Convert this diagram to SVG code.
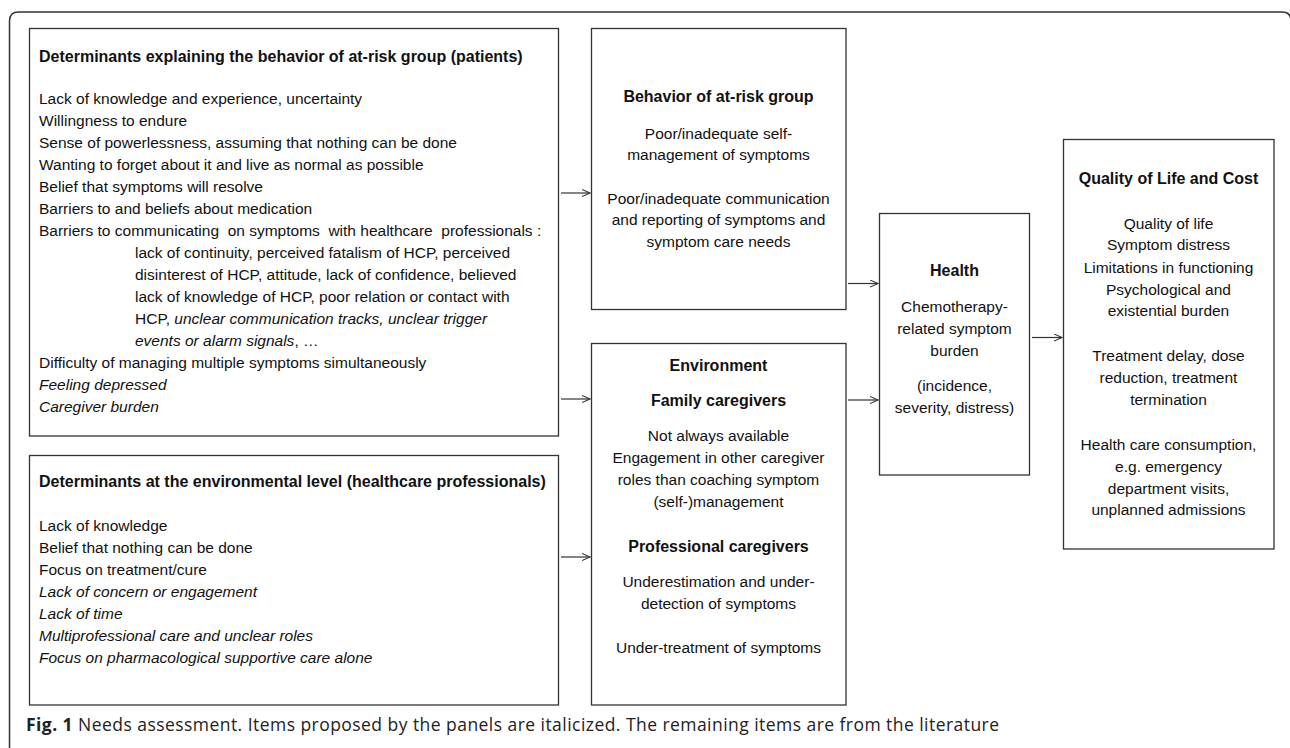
<svg xmlns="http://www.w3.org/2000/svg" width="1290" height="748" viewBox="0 0 1290 748">
<style>
.box{fill:#fff;stroke:#333;stroke-width:1.3}
.frame{fill:none;stroke:#333;stroke-width:1.5}
text{font-family:"Liberation Sans",Arial,sans-serif;font-size:15.5px;fill:#111}
.b{font-weight:bold;font-size:16px}
.c{text-anchor:middle}
.i{font-style:italic}
.cap{font-family:"Open Sans","Noto Sans",sans-serif;font-size:17.5px;fill:#222}
.conn{stroke:#333;stroke-width:1.2;fill:none;marker-end:url(#arr)}
</style>
<defs>
<marker id="arr" markerUnits="userSpaceOnUse" markerWidth="10" markerHeight="10" refX="8" refY="4" orient="auto">
<path d="M0,0.5 L8,4 L0,7.5" fill="none" stroke="#333" stroke-width="1.1"/>
</marker>
</defs>
<rect width="1290" height="748" fill="#fff"/>
<path class="frame" d="M9.5,748 V21 Q9.5,12 18.5,12 H1282 Q1291,12 1291,21"/>

<g id="det-patients">
<rect class="box" x="29.5" y="28.5" width="529" height="407.5"/>
<text class="b" x="39" y="62">Determinants explaining the behavior of at-risk group (patients)</text>
<text x="39" y="104">Lack of knowledge and experience, uncertainty</text>
<text x="39" y="126">Willingness to endure</text>
<text x="39" y="148">Sense of powerlessness, assuming that nothing can be done</text>
<text x="39" y="170">Wanting to forget about it and live as normal as possible</text>
<text x="39" y="192">Belief that symptoms will resolve</text>
<text x="39" y="214">Barriers to and beliefs about medication</text>
<text x="39" y="236" xml:space="preserve">Barriers to communicating  on symptoms  with healthcare  professionals :</text>
<text x="135" y="258">lack of continuity, perceived fatalism of HCP, perceived</text>
<text x="135" y="280">disinterest of HCP, attitude, lack of confidence, believed</text>
<text x="135" y="302">lack of knowledge of HCP, poor relation or contact with</text>
<text x="135" y="324">HCP, <tspan class="i">unclear communication tracks, unclear trigger</tspan></text>
<text x="135" y="346"><tspan class="i">events or alarm signals</tspan>, …</text>
<text x="39" y="368">Difficulty of managing multiple symptoms simultaneously</text>
<text class="i" x="39" y="390">Feeling depressed</text>
<text class="i" x="39" y="412">Caregiver burden</text>
</g>

<g id="det-environment">
<rect class="box" x="29.5" y="455.5" width="529" height="249.5"/>
<text class="b" x="39" y="487">Determinants at the environmental level (healthcare professionals)</text>
<text x="39" y="531">Lack of knowledge</text>
<text x="39" y="553">Belief that nothing can be done</text>
<text x="39" y="575">Focus on treatment/cure</text>
<text class="i" x="39" y="597">Lack of concern or engagement</text>
<text class="i" x="39" y="619">Lack of time</text>
<text class="i" x="39" y="641">Multiprofessional care and unclear roles</text>
<text class="i" x="39" y="663">Focus on pharmacological supportive care alone</text>
</g>

<g id="behavior">
<rect class="box" x="591.5" y="28.5" width="254.5" height="281"/>
<text class="b c" x="718.5" y="102">Behavior of at-risk group</text>
<text class="c" x="718.5" y="138.5">Poor/inadequate self-</text>
<text class="c" x="718.5" y="160">management of symptoms</text>
<text class="c" x="718.5" y="203.5">Poor/inadequate communication</text>
<text class="c" x="718.5" y="225">and reporting of symptoms and</text>
<text class="c" x="718.5" y="247">symptom care needs</text>
</g>

<g id="environment">
<rect class="box" x="591.5" y="343.5" width="254.5" height="361.5"/>
<text class="b c" x="718.5" y="371">Environment</text>
<text class="b c" x="718.5" y="406">Family caregivers</text>
<text class="c" x="718.5" y="441">Not always available</text>
<text class="c" x="718.5" y="463">Engagement in other caregiver</text>
<text class="c" x="718.5" y="485">roles than coaching symptom</text>
<text class="c" x="718.5" y="507">(self-)management</text>
<text class="b c" x="718.5" y="552">Professional caregivers</text>
<text class="c" x="718.5" y="587">Underestimation and under-</text>
<text class="c" x="718.5" y="609">detection of symptoms</text>
<text class="c" x="718.5" y="653">Under-treatment of symptoms</text>
</g>

<g id="health">
<rect class="box" x="879.5" y="213.5" width="150" height="261.5"/>
<text class="b c" x="954.5" y="276">Health</text>
<text class="c" x="954.5" y="312">Chemotherapy-</text>
<text class="c" x="954.5" y="333.5">related symptom</text>
<text class="c" x="954.5" y="356">burden</text>
<text class="c" x="954.5" y="391">(incidence,</text>
<text class="c" x="954.5" y="413">severity, distress)</text>
</g>

<g id="qol">
<rect class="box" x="1063.5" y="139.5" width="210.5" height="409.5"/>
<text class="b c" x="1168.5" y="184">Quality of Life and Cost</text>
<text class="c" x="1168.5" y="228.5">Quality of life</text>
<text class="c" x="1168.5" y="250">Symptom distress</text>
<text class="c" x="1168.5" y="272.5">Limitations in functioning</text>
<text class="c" x="1168.5" y="294.5">Psychological and</text>
<text class="c" x="1168.5" y="316">existential burden</text>
<text class="c" x="1168.5" y="361">Treatment delay, dose</text>
<text class="c" x="1168.5" y="383">reduction, treatment</text>
<text class="c" x="1168.5" y="404.5">termination</text>
<text class="c" x="1168.5" y="450">Health care consumption,</text>
<text class="c" x="1168.5" y="472">e.g. emergency</text>
<text class="c" x="1168.5" y="493.5">department visits,</text>
<text class="c" x="1168.5" y="515">unplanned admissions</text>
</g>

<g id="connectors">
<line class="conn" x1="561" y1="193" x2="590" y2="193"/>
<line class="conn" x1="561" y1="399" x2="590" y2="399"/>
<line class="conn" x1="561" y1="557" x2="590" y2="557"/>
<line class="conn" x1="848" y1="283.5" x2="878" y2="283.5"/>
<line class="conn" x1="848" y1="400" x2="878" y2="400"/>
<line class="conn" x1="1032" y1="337.5" x2="1062" y2="337.5"/>
</g>

<text class="cap" x="26" y="731" textLength="973"><tspan font-weight="bold">Fig. 1</tspan> Needs assessment. Items proposed by the panels are italicized. The remaining items are from the literature</text>
</svg>
